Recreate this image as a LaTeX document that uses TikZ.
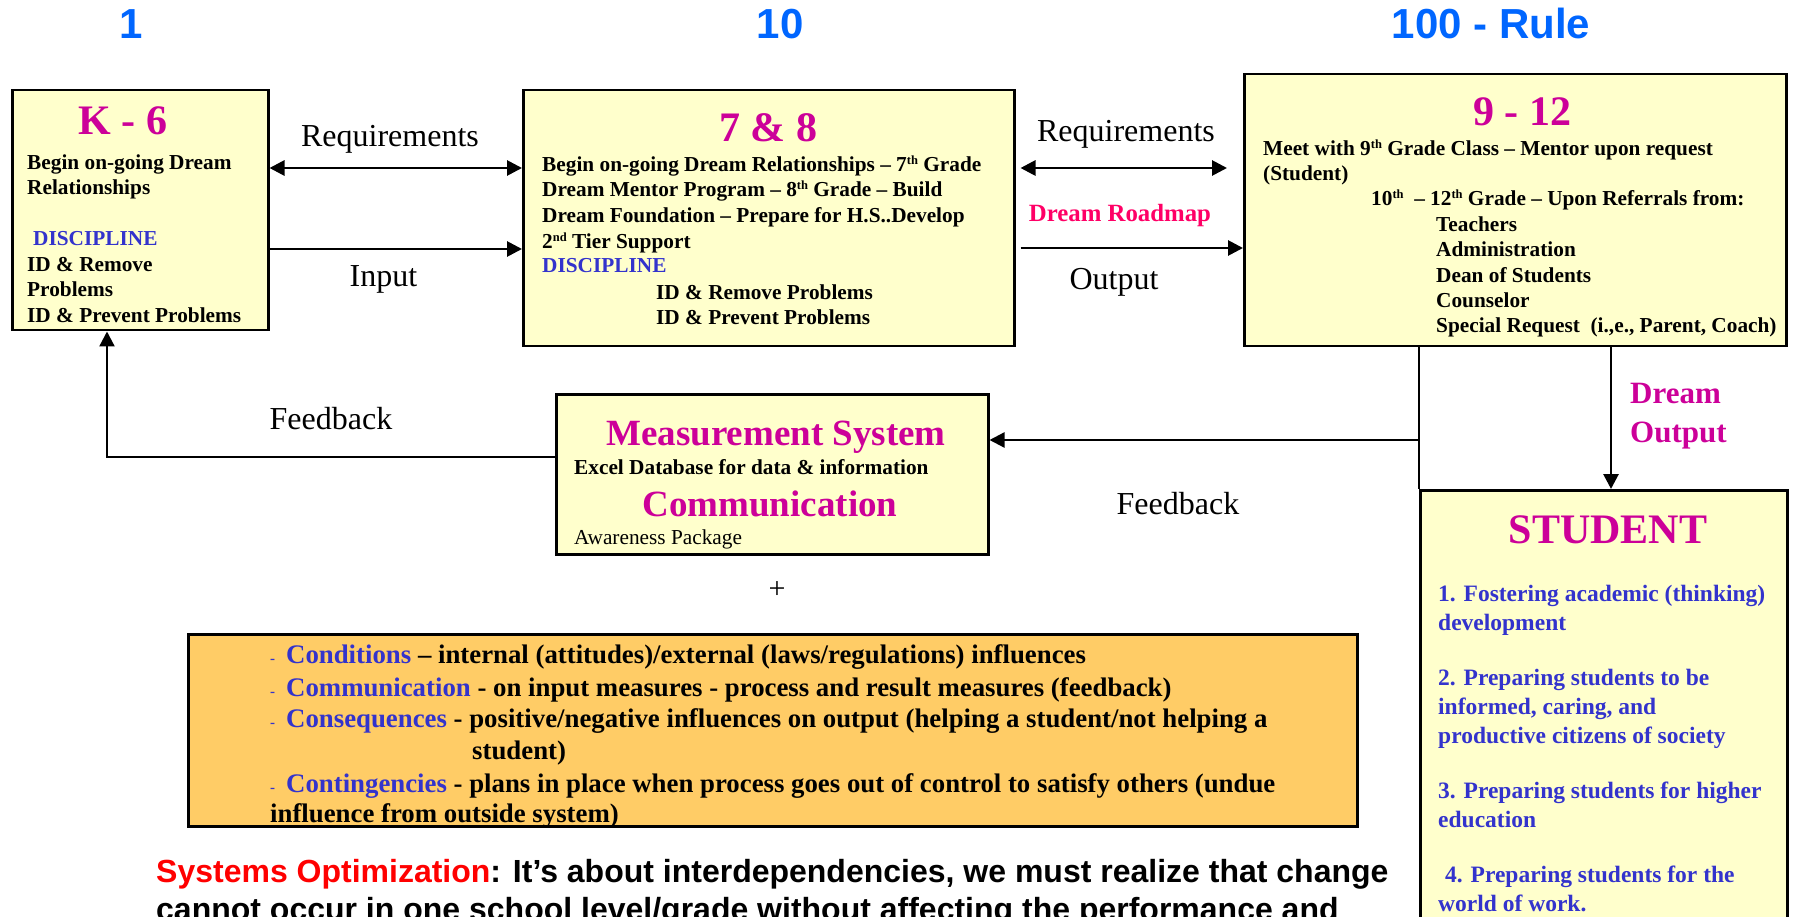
\documentclass[tikz,border=0pt]{standalone}
\usepackage{fontspec}
\setmainfont{Liberation Serif}
\newfontfamily\arialf{Liberation Sans}
\usetikzlibrary{arrows.meta,calc}
\definecolor{boxfill}{HTML}{FFFFCC}
\definecolor{orangefill}{HTML}{FFCC66}
\definecolor{mag}{HTML}{CC0099}
\definecolor{pinkred}{HTML}{FF0066}
\definecolor{dblue}{HTML}{3333CC}
\definecolor{topblue}{HTML}{0066FF}
\newcommand\fsz[1]{\fontsize{#1}{#1}\selectfont}
\newcommand\odash{{\fsz{15}\textcolor{dblue}{-}}\hspace{11pt}}
\newcommand\sx[1]{\raisebox{7pt}{\fsz{12.5}#1}}
\begin{document}
\begin{tikzpicture}[x=1pt,y=-1pt,
  box/.style={draw=black, line width=2.5pt, fill=boxfill, anchor=north west, inner sep=0pt},
  tx/.style={anchor=base west, inner sep=0pt, font=\bfseries\fsz{21.3}},
  stx/.style={anchor=base west, inner sep=0pt, text=dblue, font=\bfseries\fsz{23.5}},
  otx/.style={anchor=base west, inner sep=0pt, font=\bfseries\fsz{26.8}},
  ttl/.style={anchor=base, inner sep=0pt, text=mag, font=\bfseries\fsz{42}},
  bigttl/.style={anchor=base, inner sep=0pt, text=mag, font=\bfseries\fsz{37}},
  lbl/.style={anchor=base, inner sep=0pt, font=\fsz{32}},
  topn/.style={anchor=base, inner sep=0pt, text=topblue, font=\arialf\bfseries\fsz{42}},
  tip/.tip={Triangle[length=15pt,width=15pt]},
  arr/.style={line width=2.8pt, -tip},
  darr/.style={line width=2.8pt, tip-tip},
  fb/.style={line width=2.3pt}]
\useasboundingbox (0,0) rectangle (1797,917);
\clip (0,0) rectangle (1797,917);

% boxes
\node[box, minimum width=256pt, minimum height=240pt] (k6) at (11,89) {};
\node[box, minimum width=491pt, minimum height=256pt] (b78) at (522,89) {};
\node[box, minimum width=542pt, minimum height=272pt] (b912) at (1243,73) {};
\node[box, minimum width=432pt, minimum height=160pt] (meas) at (555,393) {};
\node[box, minimum width=367pt, minimum height=460pt] (stu) at (1419,489) {};
\node[box, fill=orangefill, minimum width=1169pt, minimum height=192pt] (orb) at (187,633) {};

% level coordinates
\coordinate (reqA) at (0,168);
\coordinate (inA) at (0,249);
\coordinate (outA) at (0,248);
\coordinate (fbR) at (1419,440);
\coordinate (fbL) at (107,457);
\coordinate (dOut) at (1611,0);

% connectors
\draw[darr] (k6.east |- reqA) -- (b78.west |- reqA);
\draw[arr] (k6.east |- inA) -- (b78.west |- inA);
\draw[darr] ($(b78.east |- reqA)+(5,0)$) -- ($(b912.west |- reqA)+(-16,0)$);
\draw[arr] ($(b78.east |- outA)+(5,0)$) -- (b912.west |- outA);
\draw[fb] (b912.south -| fbR) -- (stu.north west);
\draw[fb, -tip] (fbR) -- (meas.east |- fbR);
\draw[fb, -tip] (meas.west |- fbL) -- (fbL) -- (k6.south -| fbL);
\draw[arr] (b912.south -| dOut) -- (stu.north -| dOut);

% top numbers
\node[topn] (n1) at (131,39) {1};
\node[topn] (n10) at (780,39) {10};
\node[topn] (n100) at (1491,39) {100 - Rule};

% K-6
\node[ttl] (k6t) at (123,135) {K - 6};
\node[tx] (k6a) at (27,170) {Begin on-going Dream};
\node[tx] (k6b) at (27,195) {Relationships};
\node[tx, text=dblue] (k6c) at (33,246) {DISCIPLINE};
\node[tx] (k6d) at (27,272) {ID \& Remove};
\node[tx] (k6e) at (27,297) {Problems};
\node[tx] (k6f) at (27,323) {ID \& Prevent Problems};

% 7 & 8
\node[ttl] (b78t) at (768,142) {7 \& 8};
\node[tx] (b78a) at (542,172) {Begin on-going Dream Relationships – 7\sx{th} Grade};
\node[tx] (b78b) at (542,197) {Dream Mentor Program – 8\sx{th} Grade – Build};
\node[tx] (b78c) at (542,223) {Dream Foundation – Prepare for H.S..Develop};
\node[tx] (b78d) at (542,249) {2\sx{nd} Tier Support};
\node[tx, text=dblue] (b78e) at (542,273) {DISCIPLINE};
\node[tx] (b78f) at (656,300) {ID \& Remove Problems};
\node[tx] (b78g) at (656,325) {ID \& Prevent Problems};

% 9 - 12
\node[ttl] (b912t) at (1522,126) {9 - 12};
\node[tx] (b912a) at (1263,156) {Meet with 9\sx{th} Grade Class – Mentor upon request};
\node[tx] (b912b) at (1263,181) {(Student)};
\node[tx] (b912c) at (1371,206) {10\sx{th}\ \ – 12\sx{th} Grade – Upon Referrals from:};
\node[tx] (b912d) at (1436,232) {Teachers};
\node[tx] (b912e) at (1436,257) {Administration};
\node[tx] (b912f) at (1436,283) {Dean of Students};
\node[tx] (b912g) at (1436,308) {Counselor};
\node[tx] (b912h) at (1436,333) {Special Request\ \ (i.,e., Parent, Coach)};

% measurement
\node[bigttl] (mt1) at (776,445) {Measurement System};
\node[tx] (mt2) at (574,474) {Excel Database for data \& information};
\node[bigttl] (mt3) at (770,516) {Communication};
\node[anchor=base west, inner sep=0pt, font=\fsz{21.3}] (mt4) at (574,544) {Awareness Package};

% student
\node[ttl] (stut) at (1608,543) {STUDENT};
\node[stx] (s1a) at (1438,601.5) {1. Fostering academic (thinking)};
\node[stx] (s1b) at (1438,630) {development};
\node[stx] (s2a) at (1438,685) {2. Preparing students to be};
\node[stx] (s2b) at (1438,714) {informed, caring, and};
\node[stx] (s2c) at (1438,743) {productive citizens of society};
\node[stx] (s3a) at (1438,798) {3. Preparing students for higher};
\node[stx] (s3b) at (1438,827) {education};
\node[stx] (s4a) at (1445,882) {4. Preparing students for the};
\node[stx] (s4b) at (1438,911) {world of work.};

% orange box
\node[otx] (o1) at (270,663) {\odash\textcolor{dblue}{Conditions} – internal (attitudes)/external (laws/regulations) influences};
\node[otx] (o2) at (270,696) {\odash\textcolor{dblue}{Communication} - on input measures - process and result measures (feedback)};
\node[otx] (o3) at (270,727) {\odash\textcolor{dblue}{Consequences} - positive/negative influences on output (helping a student/not helping a};
\node[otx] (o4) at (472,759) {student)};
\node[otx] (o5) at (270,792) {\odash\textcolor{dblue}{Contingencies} - plans in place when process goes out of control to satisfy others (undue};
\node[otx] (o6) at (270,822) {influence from outside system)};

% labels
\node[lbl] (lreq1) at (390,147) {Requirements};
\node[lbl] (lin) at (383.5,287) {Input};
\node[lbl] (lreq2) at (1126,142) {Requirements};
\node[anchor=base, inner sep=0pt, text=pinkred, font=\bfseries\fsz{24.8}] (lroad) at (1120,222) {Dream Roadmap};
\node[lbl] (lout) at (1114,290) {Output};
\node[lbl] (lfb1) at (331,429) {Feedback};
\node[lbl] (lfb2) at (1178,514) {Feedback};
\node[anchor=base west, inner sep=0pt, text=mag, font=\bfseries\fsz{31}] (ldo1) at (1630,403) {Dream};
\node[anchor=base west, inner sep=0pt, text=mag, font=\bfseries\fsz{31}] (ldo2) at (1630,442) {Output};
\node[anchor=base, inner sep=0pt, font=\fsz{30}] (plus) at (777,598) {+};

% systems optimization
\node[anchor=base west, inner sep=0pt, font=\arialf\bfseries\fsz{32}] (sys1) at (156,882) {\textcolor{red}{Systems Optimization}: It’s about interdependencies, we must realize that change};
\node[anchor=base west, inner sep=0pt, font=\arialf\bfseries\fsz{32}] (sys2) at (156,920) {cannot occur in one school level/grade without affecting the performance and};
\end{tikzpicture}
\end{document}
